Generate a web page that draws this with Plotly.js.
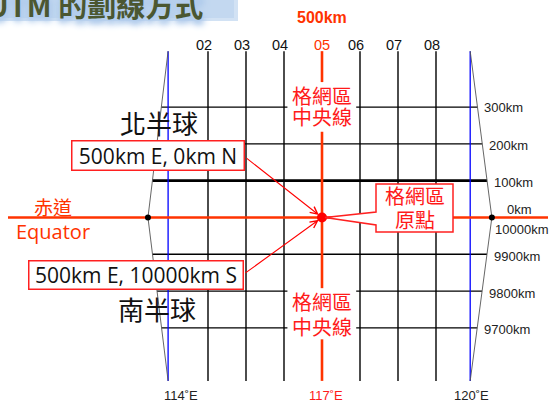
<!DOCTYPE html>
<html><head><meta charset="utf-8">
<script src="https://cdn.plot.ly/plotly-3.0.1.min.js"></script>
<style>html,body{margin:0;padding:0;background:#fff;}#chart{width:557px;height:403px;}</style>
</head><body><div id="chart"></div>
<script>
// ---------------- data ----------------
const gridColumnLabels = ['02','03','04','05','06','07','08'];
const gridEastingKm = [200,300,400,500,600,700,800];
const centralEastingKm = 500;
const gridNorthingKm = [300,200,100,0,-100,-200,-300];      // + north / - south of equator
const northingLabels = ['300km','200km','100km','0km','9900km','9800km','9700km'];
const equatorSouthLabel = '10000km';
const meridianLabels = ['114˚E','117˚E','120˚E'];
const meridianEastingKm = [95, 500, 890];
const zoneEdgeAtEquatorKm = [42, 947];
const zoneTopKm = 452, zoneBottomKm = -444;
const originE = 500, originN = 0;
const originNorthText = '500km E, 0km N';
const originSouthText = '500km E, 10000km S';
const hemisphereLabels = ['北半球','南半球'];
const cmLabelLines = ['格網區','中央線'];
const originLabelLines = ['格網區','原點'];
const equatorLabels = ['赤道','Equator'];
const topLabel = '500km';
const titleText = 'UTM 的劃線方式';

// ---------------- layout helpers ----------------
const W = 557, H = 403;
const sx = 0.38, sy = 0.368;                 // px per km
const x0 = centralEastingKm - 322 / sx;       // left edge in km
const y1 = 217.5 / sy;                        // top edge in km
const pX = px => px / W, pY = py => 1 - py / H;
const kmX = px => x0 + px / sx;

const RED = '#ff3300', RED2 = '#ff1a1a';
const LAT = 'Liberation Sans, Arial, sans-serif';
const CJK = 'Noto Sans CJK TC, sans-serif';
const OS = 'Open Sans, sans-serif';

function edgeE(side, n) {
  const mer = side === 0 ? meridianEastingKm[0] : meridianEastingKm[2];
  const eq = zoneEdgeAtEquatorKm[side];
  const frac = n >= 0 ? n / zoneTopKm : n / zoneBottomKm;
  return eq + (mer - eq) * frac;
}

// vertical grid lines
const vx = [], vy = [];
gridEastingKm.forEach(e => { if (e !== centralEastingKm) { vx.push(e, e, null); vy.push(zoneTopKm, zoneBottomKm, null); } });

// horizontal grid lines (thin), gaps where the central-line labels sit
const gapLines = [300, -200, -300];
const hx = [], hy = [];
gridNorthingKm.forEach(n => {
  if (n === 0 || n === 100) return;
  const a = edgeE(0, n), b = edgeE(1, n);
  if (gapLines.includes(n)) { hx.push(a, 409, null, 590, b, null); hy.push(n, n, null, n, n, null); }
  else { hx.push(a, b, null); hy.push(n, n, null); }
});

const traces = [
  {x: vx, y: vy, mode: 'lines', line: {color: '#000', width: 1.4}, hoverinfo: 'skip'},
  {x: hx, y: hy, mode: 'lines', line: {color: '#000', width: 1.4}, hoverinfo: 'skip'},
  {x: [edgeE(0, 100), edgeE(1, 100)], y: [100, 100], mode: 'lines', line: {color: '#000', width: 2.8}, hoverinfo: 'skip'},
  {x: [meridianEastingKm[0], meridianEastingKm[0], null, meridianEastingKm[2], meridianEastingKm[2]],
   y: [zoneTopKm, zoneBottomKm, null, zoneTopKm, zoneBottomKm], mode: 'lines', line: {color: '#0000ff', width: 1.3}, hoverinfo: 'skip'},
  {x: [meridianEastingKm[0], zoneEdgeAtEquatorKm[0], meridianEastingKm[0], null, meridianEastingKm[2], zoneEdgeAtEquatorKm[1], meridianEastingKm[2]],
   y: [zoneTopKm, 0, zoneBottomKm, null, zoneTopKm, 0, zoneBottomKm], mode: 'lines', line: {color: '#555', width: 0.9}, hoverinfo: 'skip'},
  {x: [kmX(8), kmX(548)], y: [0, 0], mode: 'lines', line: {color: RED, width: 2.6}, hoverinfo: 'skip'},
  {x: [centralEastingKm, centralEastingKm, null, centralEastingKm, centralEastingKm, null, centralEastingKm, centralEastingKm],
   y: [zoneTopKm, 368, null, 233, -192, null, -331, zoneBottomKm], mode: 'lines', line: {color: RED, width: 2.6}, hoverinfo: 'skip'},
  {x: zoneEdgeAtEquatorKm, y: [0, 0], mode: 'markers', marker: {color: '#000', size: 6}, hoverinfo: 'skip'},
  {x: [originE], y: [originN], mode: 'markers', marker: {color: '#ff0000', size: 10}, hoverinfo: 'skip'}
];

const ann = [];
function A(o) { ann.push(Object.assign({xanchor: 'center', yanchor: 'middle', showarrow: false}, o)); }
// title
A({xref: 'paper', yref: 'paper', x: pX(-15), y: pY(4), xanchor: 'left',
  text: titleText, font: {family: CJK, size: 29, weight: 600, color: '#4b5731',
  shadow: '0px 3px 4px #b3cdec, 2px 5px 7px #a9c6ea, -2px 4px 7px #b3cdec'}});
// top 500km
A({xref: 'paper', yref: 'paper', x: pX(322), y: pY(18), text: '<b>' + topLabel + '</b>', font: {family: LAT, size: 16, color: RED}});
// column labels
gridColumnLabels.forEach((t, i) => {
  const cm = gridEastingKm[i] === centralEastingKm;
  A({xref: 'x', yref: 'paper', x: gridEastingKm[i], y: pY(44.7), xshift: cm ? 0 : -4, text: t,
    font: {family: LAT, size: 14.5, color: cm ? RED : '#111'}});
});
// right-side northing labels
gridNorthingKm.forEach((n, i) => {
  if (n === 0) {
    A({xref: 'x', yref: 'paper', x: edgeE(1, 0), y: pY(209), xanchor: 'left', xshift: 13, text: northingLabels[i],
      font: {family: LAT, size: 13, color: '#222'}});
    A({xref: 'x', yref: 'paper', x: edgeE(1, 0), y: pY(230), xanchor: 'left', xshift: 1, text: equatorSouthLabel,
      font: {family: LAT, size: 13, color: '#222'}});
  } else {
    A({xref: 'x', yref: 'y', x: edgeE(1, n), y: n, xanchor: 'left', xshift: 5, yshift: n === 300 ? 0 : -2,
      text: northingLabels[i], font: {family: LAT, size: 13, color: '#222'}});
  }
});
// meridian labels
const merShift = [13, 4, 1.5];
meridianLabels.forEach((t, i) => {
  A({xref: 'x', yref: 'paper', x: meridianEastingKm[i], y: pY(395), xshift: merShift[i], text: t,
    font: {family: LAT, size: 13, color: i === 1 ? RED2 : '#222'}});
});
// equator labels
A({xref: 'paper', yref: 'paper', x: pX(53), y: pY(206.5), text: equatorLabels[0], font: {family: CJK, size: 19, color: RED}});
A({xref: 'paper', yref: 'paper', x: pX(53), y: pY(231), text: equatorLabels[1], font: {family: OS, size: 20, color: RED}});
// hemisphere labels
A({xref: 'paper', yref: 'paper', x: pX(159), y: pY(122.5), text: hemisphereLabels[0], font: {family: CJK, size: 26, color: '#111'}});
A({xref: 'paper', yref: 'paper', x: pX(157), y: pY(308), text: hemisphereLabels[1], font: {family: CJK, size: 26, color: '#111'}});
// central line labels (two lines each, drawn as separate rows to keep the tight line spacing)
[[95, 117], [301.5, 326]].forEach(pair => {
  pair.forEach((py, j) => A({xref: 'x', yref: 'paper', x: centralEastingKm, y: pY(py), text: cmLabelLines[j],
    font: {family: CJK, size: 20, color: RED2}}));
});
// origin callout text
A({xref: 'paper', yref: 'paper', x: pX(414.5), y: pY(195.5), text: originLabelLines[0], font: {family: CJK, size: 20, color: RED2}});
A({xref: 'paper', yref: 'paper', x: pX(414.5), y: pY(219.5), text: originLabelLines[1], font: {family: CJK, size: 20, color: RED2}});
// arrows
ann.push({x: originE, y: originN, xref: 'x', yref: 'y', ax: kmX(245), ay: (217.5 - 157) / sy, axref: 'x', ayref: 'y', text: '',
  showarrow: true, arrowhead: 5, arrowsize: 1.3, arrowwidth: 1.1, arrowcolor: '#ff0000', standoff: 4});
ann.push({x: originE, y: originN, xref: 'x', yref: 'y', ax: kmX(244), ay: (217.5 - 274) / sy, axref: 'x', ayref: 'y', text: '',
  showarrow: true, arrowhead: 5, arrowsize: 1.3, arrowwidth: 1.1, arrowcolor: '#ff0000', standoff: 4});
// boxes
A({xref: 'paper', yref: 'paper', x: pX(157.5), y: pY(155.5), text: originNorthText,
  width: 171, height: 28, bgcolor: '#fff', bordercolor: '#ff2020', borderwidth: 1.5, borderpad: 0,
  font: {family: OS, size: 21, color: '#111'}});
A({xref: 'paper', yref: 'paper', x: pX(135.5), y: pY(275), text: originSouthText,
  width: 213, height: 27, bgcolor: '#fff', bordercolor: '#ff2020', borderwidth: 1.5, borderpad: 0,
  font: {family: OS, size: 21, color: '#111'}});

const shapes = [
  {type: 'rect', layer: 'below', xref: 'paper', yref: 'paper', x0: 0, x1: pX(238), y0: pY(21), y1: 1,
   fillcolor: '#d2e2f4', line: {width: 0}},
  {type: 'rect', layer: 'below', xref: 'paper', yref: 'paper', x0: pX(2), x1: pX(234), y0: pY(18), y1: 1,
   fillcolor: '#c3d8f0', line: {width: 0}},
  {
  type: 'path', layer: 'above', xref: 'x', yref: 'y', xsizemode: 'pixel', ysizemode: 'pixel',
  xanchor: originE, yanchor: originN,
  path: 'M54,33.5 L131,33.5 L131,-14.5 L54,-14.5 L54,-7.5 L3,0 L54,5.5 Z',
  fillcolor: '#fff', line: {color: '#ff2020', width: 1.5}
}];

const layout = {
  width: W, height: H, margin: {l: 0, r: 0, t: 0, b: 0},
  paper_bgcolor: '#fff', plot_bgcolor: '#fff', showlegend: false,
  xaxis: {range: [x0, x0 + W / sx], visible: false, fixedrange: true},
  yaxis: {range: [y1 - H / sy, y1], visible: false, fixedrange: true},
  annotations: ann, shapes: shapes
};
Plotly.newPlot('chart', traces, layout, {staticPlot: true, displayModeBar: false});
</script></body></html>
